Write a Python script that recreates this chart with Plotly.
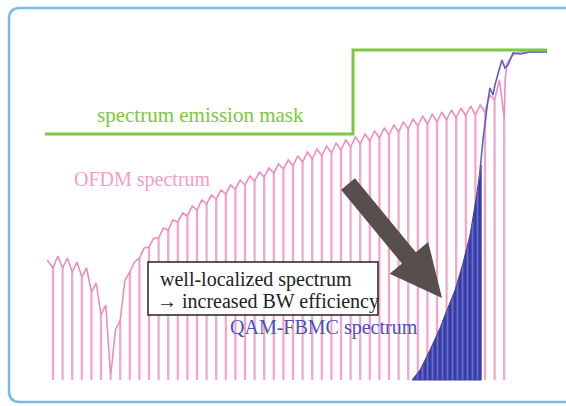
import numpy as np
import plotly.graph_objects as go

W, H = 566, 406

# ---------------- data (relative level units, x in subcarrier index) ----------------
subcarriers = list(range(48))
# OFDM spectrum level at each subcarrier null line (top of the line)
ofdm_dip = [112, 112, 108, 103, 88, 65, 3, 60, 108, 122, 133, 142, 150, 158, 164, 170,
            176, 181, 186, 191, 195, 199, 203, 207, 211, 214, 218, 221, 224, 227, 230, 233,
            236, 239, 242, 245, 248, 251, 254, 256, 258, 260, 262, 264, 265, 268, 280, 262]
# OFDM ripple peak between consecutive nulls (at k + 0.5)
ofdm_peak = [124, 122, 118, 112, 97, 75, 50, 100, 118, 132, 142, 152, 160, 167, 174, 180,
             185, 190, 195, 200, 204, 208, 212, 216, 220, 224, 228, 231, 234, 237, 240, 243,
             246, 249, 252, 255, 258, 261, 264, 266, 268, 270, 272, 274, 275, 285, 300]
ofdm_start_x, ofdm_start_level = -0.6, 120
ofdm_tail_x = [47.1, 47.3, 47.9, 48.6, 51.46]
ofdm_tail_level = [300, 317, 325, 328, 328]

# QAM-FBMC spectrum: filled steep part and its continuation
qam_fill_x = [37.40, 38.23, 39.27, 40.31, 41.04, 41.88, 42.71, 43.44, 43.96, 44.38, 44.6]
qam_fill_level = [0, 10, 30, 52, 70, 90, 117, 145, 175, 200, 215]
qam_line_x = [44.38, 44.79, 45.31, 45.52, 45.83, 46.04, 46.46, 46.77, 47.08, 47.40, 47.92,
              48.65, 49.69, 51.46]
qam_line_level = [200, 240, 280, 292, 285, 295, 310, 320, 312, 315, 327, 326, 328, 328]

# spectrum emission mask
mask_x = [-0.83, 31.25, 31.25, 51.46]
mask_level = [246, 246, 330, 330]

# arrow (tail, tip) in data units
arrow_tail = (30.73, 196)
arrow_tip = (40.52, 82)

# ---------------- axis mapping ----------------
XR = [-53 / 9.6, (W - 53) / 9.6]
YR = [-26, 380]


def d2px(x, y):
    px = (x - XR[0]) / (XR[1] - XR[0]) * W
    py = H - (y - YR[0]) / (YR[1] - YR[0]) * H
    return px, py


def px2paper(px, py):
    return px / W, 1 - py / H


fig = go.Figure()

# pink null lines
lx, ly = [], []
for k, d in zip(subcarriers, ofdm_dip):
    lx += [k, k, None]
    ly += [0, d, None]
fig.add_trace(go.Scatter(x=lx, y=ly, mode="lines",
                         line=dict(color="#f6a2c9", width=2.2), hoverinfo="skip"))

# pink OFDM curve
cx, cy = [ofdm_start_x], [ofdm_start_level]
for k in subcarriers[:-1]:
    cx += [k, k + 0.5]
    cy += [ofdm_dip[k], ofdm_peak[k]]
cx += [subcarriers[-1]] + ofdm_tail_x
cy += [ofdm_dip[-1]] + ofdm_tail_level
fig.add_trace(go.Scatter(x=cx, y=cy, mode="lines",
                         line=dict(color="#ee8cbd", width=1.6), hoverinfo="skip"))

# QAM-FBMC filled part
fx = qam_fill_x + [qam_fill_x[-1], qam_fill_x[0]]
fy = qam_fill_level + [0, 0]
fig.add_trace(go.Scatter(x=fx, y=fy, mode="lines", fill="toself",
                         line=dict(color="#3c42ad", width=1),
                         fillcolor="#3c42ad",
                         fillpattern=dict(shape="|", bgcolor="#363ca8", fgcolor="#9a9fe6",
                                          size=5, solidity=0.35),
                         hoverinfo="skip"))
fig.add_trace(go.Scatter(x=qam_line_x, y=qam_line_level, mode="lines",
                         line=dict(color="#5a5fcc", width=1.6), hoverinfo="skip"))

# mask
fig.add_trace(go.Scatter(x=mask_x, y=mask_level, mode="lines",
                         line=dict(color="#7cc83e", width=3), hoverinfo="skip"))

shapes = []


def P(px, py):
    a, b = px2paper(px, py)
    return f"{a:.5f},{b:.5f}"


# frame (rounded rectangle, right edge off-canvas)
L, T, B, R, r = 9, 8, 402, 590, 11
frame_path = (f"M {P(L, T + r)} L {P(L, B - r)} Q {P(L, B)} {P(L + r, B)} "
              f"L {P(R, B)} L {P(R, T)} L {P(L + r, T)} Q {P(L, T)} {P(L, T + r)}")
shapes.append(dict(type="path", xref="paper", yref="paper", path=frame_path,
                   line=dict(color="#76bde3", width=2.5), layer="above"))

# text box
x0, y0 = px2paper(148, 315)
x1, y1 = px2paper(378, 262)
shapes.append(dict(type="rect", xref="paper", yref="paper", x0=x0, y0=y0, x1=x1, y1=y1,
                   line=dict(color="#222222", width=1.5), fillcolor="white", layer="above"))

# block arrow
tx, ty = d2px(*arrow_tail)
hx, hy = d2px(*arrow_tip)
d = np.array([hx - tx, hy - ty])
d = d / np.linalg.norm(d)
n = np.array([-d[1], d[0]])
tail = np.array([tx, ty])
tip = np.array([hx, hy])
head_len, head_hw, shaft_hw = 52, 25, 9
base = tip - d * head_len
pts = [tail + n * shaft_hw, base + n * shaft_hw, base + n * head_hw, tip,
       base - n * head_hw, base - n * shaft_hw, tail - n * shaft_hw]
arrow_path = "M " + " L ".join(P(p[0], p[1]) for p in pts) + " Z"
shapes.append(dict(type="path", xref="paper", yref="paper", path=arrow_path,
                   fillcolor="#564f4c", line=dict(width=0), layer="above"))

serif = "Liberation Serif"


def txt(s, px, py, size, color):
    a, b = px2paper(px, py)
    return dict(text=s, x=a, y=b, xref="paper", yref="paper", xanchor="left",
                yanchor="middle", showarrow=False,
                font=dict(family=serif, size=size, color=color))


annotations = [
    txt("spectrum emission mask", 95, 115, 21, "#7cc83e"),
    txt("OFDM spectrum", 72, 179, 20, "#f29ec8"),
    txt("well-localized spectrum", 158, 279, 20, "#222222"),
    txt("→ increased BW efficiency", 155, 301, 20, "#222222"),
    txt("QAM-FBMC spectrum", 228, 327, 20, "#4a50bd"),
]

fig.update_layout(
    width=W, height=H, margin=dict(l=0, r=0, t=0, b=0),
    paper_bgcolor="white", plot_bgcolor="white", showlegend=False,
    font=dict(family=serif),
    xaxis=dict(range=XR, visible=False, fixedrange=True),
    yaxis=dict(range=YR, visible=False, fixedrange=True),
    shapes=shapes, annotations=annotations,
)

fig.write_html("out.html")
